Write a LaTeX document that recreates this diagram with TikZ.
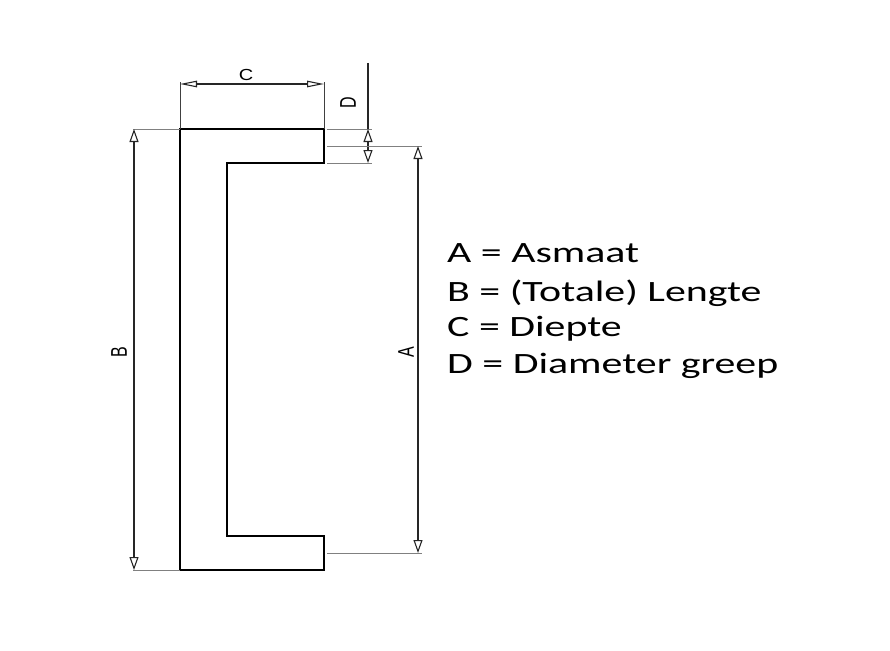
\documentclass[tikz,border=0pt]{standalone}
\usepackage{fontspec}
\usetikzlibrary{arrows.meta}
\newfontfamily\legendfont[FakeStretch=1.42]{Carlito}
\newfontfamily\dimfont[FakeStretch=1.25]{Liberation Sans}
\newfontfamily\dimfontrot{Liberation Sans}
\newcommand{\tallletter}[1]{\scalebox{1}[1.42]{#1}}
\tikzstyle{outline}=[
        draw = black,
        line width = 1.6pt,
        line join = miter
    ]
\tikzstyle{ext line}=[
        draw = black!50,
        line width = 1pt
    ]
\tikzstyle{dim line}=[
        draw = black!85,
        line width = 1.1pt,
        {Triangle[open, length=13pt, width=9pt]}-{Triangle[open, length=13pt, width=9pt]}
    ]
\tikzstyle{wide dim line}=[
        dim line,
        {Triangle[open, length=17pt, width=6.5pt]}-{Triangle[open, length=17pt, width=6.5pt]}
    ]
\tikzstyle{dim label}=[
        inner sep = 0pt,
        font = \fontsize{16}{18}\dimfont
    ]
\tikzstyle{dim label rot}=[
        inner sep = 0pt,
        rotate = 90,
        font = \fontsize{16}{18}\dimfontrot
    ]
\tikzstyle{legend}=[
        inner sep = 0pt,
        anchor = base west,
        font = \fontsize{29.5}{35}\legendfont
    ]
\begin{document}
\begin{tikzpicture}[x=1pt, y=-1pt]
        \useasboundingbox (0,0) rectangle (890,650);

        % handle outline
        \coordinate (tl) at (180,129);
        \coordinate (tr) at (324,129);
        \coordinate (tri) at (324,163);
        \coordinate (til) at (227,163);
        \coordinate (bil) at (227,536);
        \coordinate (bri) at (324,536);
        \coordinate (br) at (324,570);
        \coordinate (bl) at (180,570);
        \draw[outline] (tl) -- (tr) -- (tri) -- (til) -- (bil) -- (bri) -- (br) -- (bl) -- cycle;

        % C = depth
        \coordinate (c1) at (180,82);
        \coordinate (c2) at (324,82);
        \coordinate (c1a) at (180,84);
        \coordinate (c2a) at (324,84);
        \draw[ext line, draw=black!75] (tl) -- (c1);
        \draw[ext line, draw=black!75] (tr) -- (c2);
        \draw[wide dim line] (c1a) -- (c2a);
        \node[dim label] (labelC) at (246,75) {C};

        % B = total length
        \coordinate (b1) at (133,129);
        \coordinate (b2) at (133,570);
        \coordinate (b1a) at (134,129);
        \coordinate (b2a) at (134,570);
        \draw[ext line] (b1) -- (tl);
        \draw[ext line] (b2) -- (bl);
        \draw[dim line] (b1a) -- (b2a);
        \node[dim label rot] (labelB) at (119,352) {\tallletter{B}};

        % D = diameter
        \coordinate (d1) at (327,129);
        \coordinate (d2) at (327,163);
        \coordinate (d1e) at (372,129);
        \coordinate (d2e) at (372,163);
        \coordinate (dtop) at (368,63);
        \coordinate (d1a) at (368,129);
        \coordinate (d2a) at (368,163);
        \draw[ext line] (d1) -- (d1e);
        \draw[ext line] (d2) -- (d2e);
        \draw[draw=black!85, line width=1.1pt] (dtop) -- (d1a);
        \draw[dim line] (d1a) -- (d2a);
        \node[dim label rot] (labelD) at (348,103) {\tallletter{D}};

        % A = centre distance
        \coordinate (a1) at (327,146);
        \coordinate (a2) at (327,553);
        \coordinate (a1e) at (422,146);
        \coordinate (a2e) at (422,553);
        \coordinate (a1a) at (418,146);
        \coordinate (a2a) at (418,553);
        \draw[ext line] (a1) -- (a1e);
        \draw[ext line] (a2) -- (a2e);
        \draw[dim line] (a1a) -- (a2a);
        \node[dim label rot] (labelA) at (406,352) {\tallletter{A}};

        % legend
        \node[legend] (asmaat) at (447,262) {A = Asmaat};
        \node[legend] (lengte) at (447,301.5) {B = (Totale) Lengte};
        \node[legend] (diepte) at (447,336.5) {C = Diepte};
        \node[legend] (greep) at (447,373) {D = Diameter greep};

    \end{tikzpicture}
\end{document}
